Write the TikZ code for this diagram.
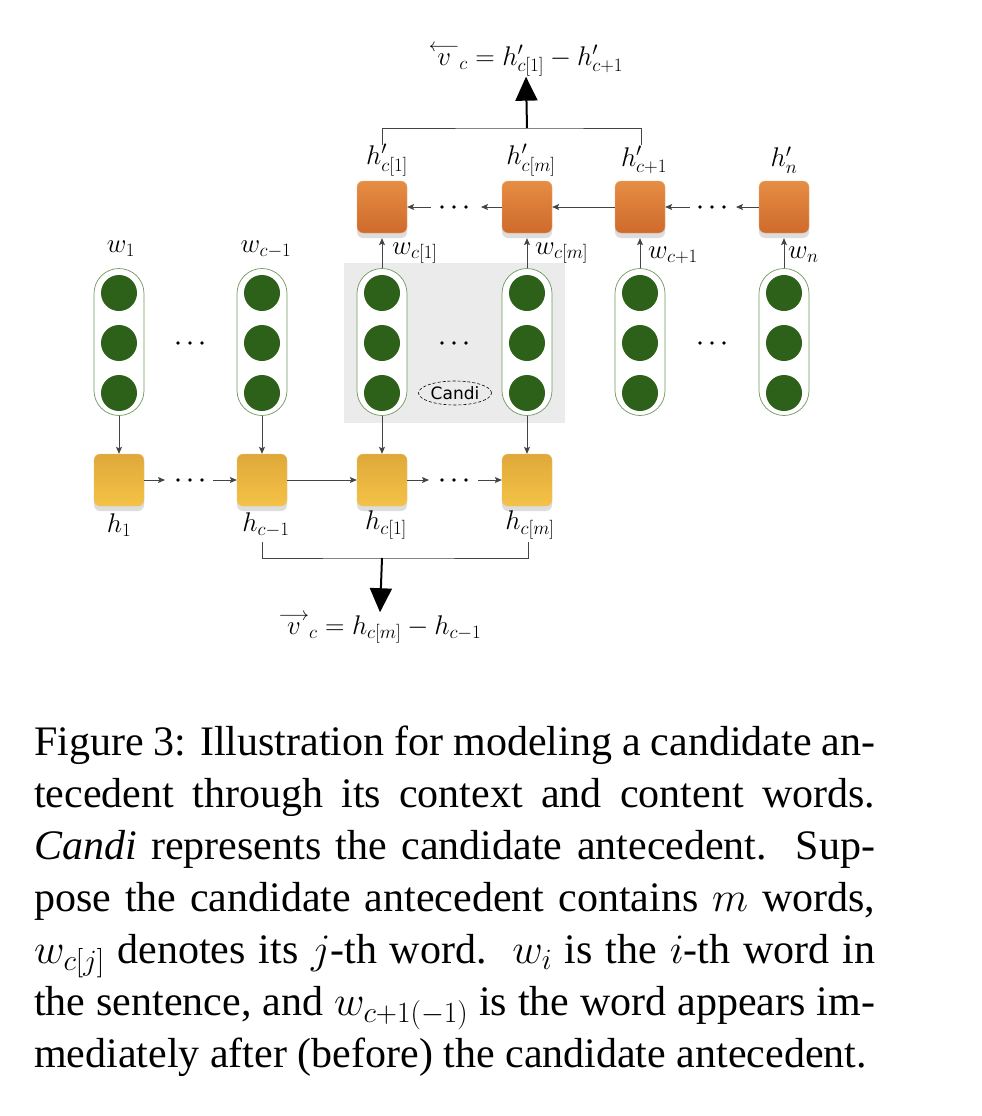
\RequirePackage{fix-cm}
\documentclass[tikz,border=0pt]{standalone}
\usepackage{fontspec}
\setmainfont{Liberation Serif}
\newfontfamily\candifont{DejaVu Sans}
\usetikzlibrary{arrows.meta,shapes.geometric,shadows,calc}
\definecolor{leafgreen}{HTML}{2D6119}
\definecolor{pillline}{HTML}{6E9A5E}
\definecolor{yelTop}{HTML}{DFA93A}
\definecolor{yelBot}{HTML}{F4C247}
\definecolor{orgTop}{HTML}{E68D43}
\definecolor{orgBot}{HTML}{CF6A2C}
\definecolor{shadegray}{HTML}{DDDDDD}
\definecolor{candibg}{HTML}{EBEBEB}
\definecolor{linegray}{HTML}{444444}
\tikzset{
  cellbase/.style={rectangle, rounded corners=6pt, minimum width=50pt, minimum height=52pt, inner sep=0pt,
    drop shadow={shadow xshift=0pt, shadow yshift=-5pt, fill=shadegray, opacity=1}},
  ybox/.style={cellbase, top color=yelTop, bottom color=yelBot, draw=yelTop!70!white, line width=0.4pt},
  obox/.style={cellbase, top color=orgTop, bottom color=orgBot, draw=orgTop!70!white, line width=0.4pt},
  pill/.style={rectangle, rounded corners=25pt, minimum width=50pt, minimum height=147pt, draw=pillline, fill=white, line width=0.7pt, inner sep=0pt},
  unit/.style={circle, fill=leafgreen, minimum size=36pt, inner sep=0pt},
  lbl/.style={inner sep=0pt, font=\fontsize{27}{30}\selectfont},
  conn/.style={draw=linegray, line width=0.8pt, -{Stealth[length=7pt,width=6pt,inset=1.5pt]}},
  plain/.style={draw=linegray, line width=0.8pt},
  bigarrow/.style={draw=black, line width=2pt, -{Triangle[length=24pt,width=22pt]}},
  dotmark/.style={circle, fill=black, minimum size=3.6pt, inner sep=0pt},
  candi/.style={ellipse, draw=black, dash pattern=on 3pt off 2pt, line width=0.6pt, minimum width=73pt, minimum height=24pt, inner sep=0pt, font=\candifont\fontsize{17}{20}\selectfont},
}
\begin{document}
\begin{tikzpicture}[x=1pt,y=-1pt]
\useasboundingbox (0,0) rectangle (982,1116);
\fill[white] (0,0) rectangle (982,1116);
% candidate background
\fill[candibg] (344,263) rectangle (565,423);
% pills
\foreach \n/\x in {1/119,2/262,3/382,4/527,5/640,6/784}{
  \node[pill] (p\n) at (\x,342) {};
  \node[unit] (u\n a) at (\x,293) {};
  \node[unit] (u\n b) at (\x,343) {};
  \node[unit] (u\n c) at (\x,393) {};
}
% dots between pills
\foreach \i/\x in {a/190,b/454,c/712}{
  \node[dotmark] (pd\i1) at (\x-12,343) {};
  \node[dotmark] (pd\i2) at (\x,343) {};
  \node[dotmark] (pd\i3) at (\x+12,343) {};
}
\node[candi] (cand) at (455,393) {Candi};
% yellow boxes
\node[ybox] (y1) at (119,480) {};
\node[ybox] (y2) at (262,480) {};
\node[ybox] (y3) at (382,480) {};
\node[ybox] (y4) at (527,480) {};
% orange boxes
\node[obox] (o1) at (382,207) {};
\node[obox] (o2) at (527,207) {};
\node[obox] (o3) at (640,207) {};
\node[obox] (o4) at (784,207) {};
% pills to yellow
\draw[conn] (p1.south) -- (y1.north);
\draw[conn] (p2.south) -- (y2.north);
\draw[conn] (p3.south) -- (y3.north);
\draw[conn] (p4.south) -- (y4.north);
% pills to orange
\draw[conn] (p3.north) -- ($(o1.south)+(0,5)$);
\draw[conn] (p4.north) -- ($(o2.south)+(0,5)$);
\draw[conn] (p5.north) -- ($(o3.south)+(0,5)$);
\draw[conn] (p6.north) -- ($(o4.south)+(0,5)$);
% forward chain
\coordinate (fa1) at (165,480);
\coordinate (fa2) at (213,480);
\node[dotmark] (fd1) at (178,480) {};
\node[dotmark] (fd2) at (190,480) {};
\node[dotmark] (fd3) at (202,480) {};
\draw[conn] (y1.east) -- (fa1);
\draw[conn] (fa2) -- (y2.west);
\draw[conn] (y2.east) -- (y3.west);
\coordinate (fb1) at (429,480);
\coordinate (fb2) at (478,480);
\node[dotmark] (fe1) at (442,480) {};
\node[dotmark] (fe2) at (454,480) {};
\node[dotmark] (fe3) at (466,480) {};
\draw[conn] (y3.east) -- (fb1);
\draw[conn] (fb2) -- (y4.west);
% backward chain
\coordinate (ba1) at (736,207);
\coordinate (ba2) at (690,207);
\node[dotmark] (bd1) at (700,207) {};
\node[dotmark] (bd2) at (712,207) {};
\node[dotmark] (bd3) at (724,207) {};
\draw[conn] (o4.west) -- (ba1);
\draw[conn] (ba2) -- (o3.east);
\draw[conn] (o3.west) -- (o2.east);
\coordinate (bb1) at (481,207);
\coordinate (bb2) at (431,207);
\node[dotmark] (be1) at (442,207) {};
\node[dotmark] (be2) at (454,207) {};
\node[dotmark] (be3) at (466,207) {};
\draw[conn] (o2.west) -- (bb1);
\draw[conn] (bb2) -- (o1.east);
% word labels
\node[lbl] (lw1) at (121,249) {$w_1$};
\node[lbl] (lw2) at (266,249) {$w_{c-1}$};
\node[lbl, anchor=west] (lw3) at (392,253) {$w_{c[1]}$};
\node[lbl, anchor=west] (lw4) at (535,253) {$w_{c[m]}$};
\node[lbl, anchor=west] (lw5) at (648,255) {$w_{c+1}$};
\node[lbl, anchor=west] (lw6) at (788,255) {$w_n$};
% hidden labels
\node[lbl] (lh1) at (119,525) {$h_1$};
\node[lbl] (lh2) at (266,525) {$h_{c-1}$};
\node[lbl] (lh3) at (386,525) {$h_{c[1]}$};
\node[lbl] (lh4) at (530,525) {$h_{c[m]}$};
\node[lbl] (lo1) at (387,160) {$h'_{c[1]}$};
\node[lbl] (lo2) at (531,160) {$h'_{c[m]}$};
\node[lbl] (lo3) at (644,160) {$h'_{c+1}$};
\node[lbl] (lo4) at (784,160) {$h'_{n}$};
% top bracket and arrow
\coordinate (tb1) at (382,145);
\coordinate (tb2) at (641,145);
\coordinate (tm) at (527,128);
\draw[plain] (tb1) |- (tm) -| (tb2);
\node[lbl] (ftop) at (526,60) {${{\buildrel{\scriptstyle\longleftarrow}\over{v}}}_{c} = h'_{c[1]} - h'_{c+1}$};
\draw[bigarrow] (tm) -- (ftop.south);
% bottom bracket and arrow
\coordinate (bb3) at (262,542);
\coordinate (bb4) at (528,542);
\coordinate (bm) at (382,558);
\draw[plain] (bb3) |- (bm) -| (bb4);
\node[lbl] (fbot) at (380,628) {${{\buildrel{\scriptstyle\longrightarrow}\over{v}}}_{c} = h_{c[m]} - h_{c-1}$};
\draw[bigarrow] (bm) -- (fbot.north);
% caption
\node[anchor=base west, text width=841pt, align=justify, inner sep=0pt,
      font=\fontsize{42}{52}\selectfont] (cap) at (34,755)
 {\hyphenpenalty=10000 \tolerance=9999
  Figure 3: Illustration for modeling a candidate an-\linebreak
  tecedent through its context and content words.\linebreak
  \textit{Candi} represents the candidate antecedent.\ \ Sup-\linebreak
  pose the candidate antecedent contains $m$ words,\linebreak
  $w_{c[j]}$ denotes its $j$-th word.\ \ $w_i$ is the $i$-th word in\linebreak
  the sentence, and $w_{c+1(-1)}$ is the word appears im-\linebreak
  mediately after (before) the candidate antecedent.};
\end{tikzpicture}
\end{document}
